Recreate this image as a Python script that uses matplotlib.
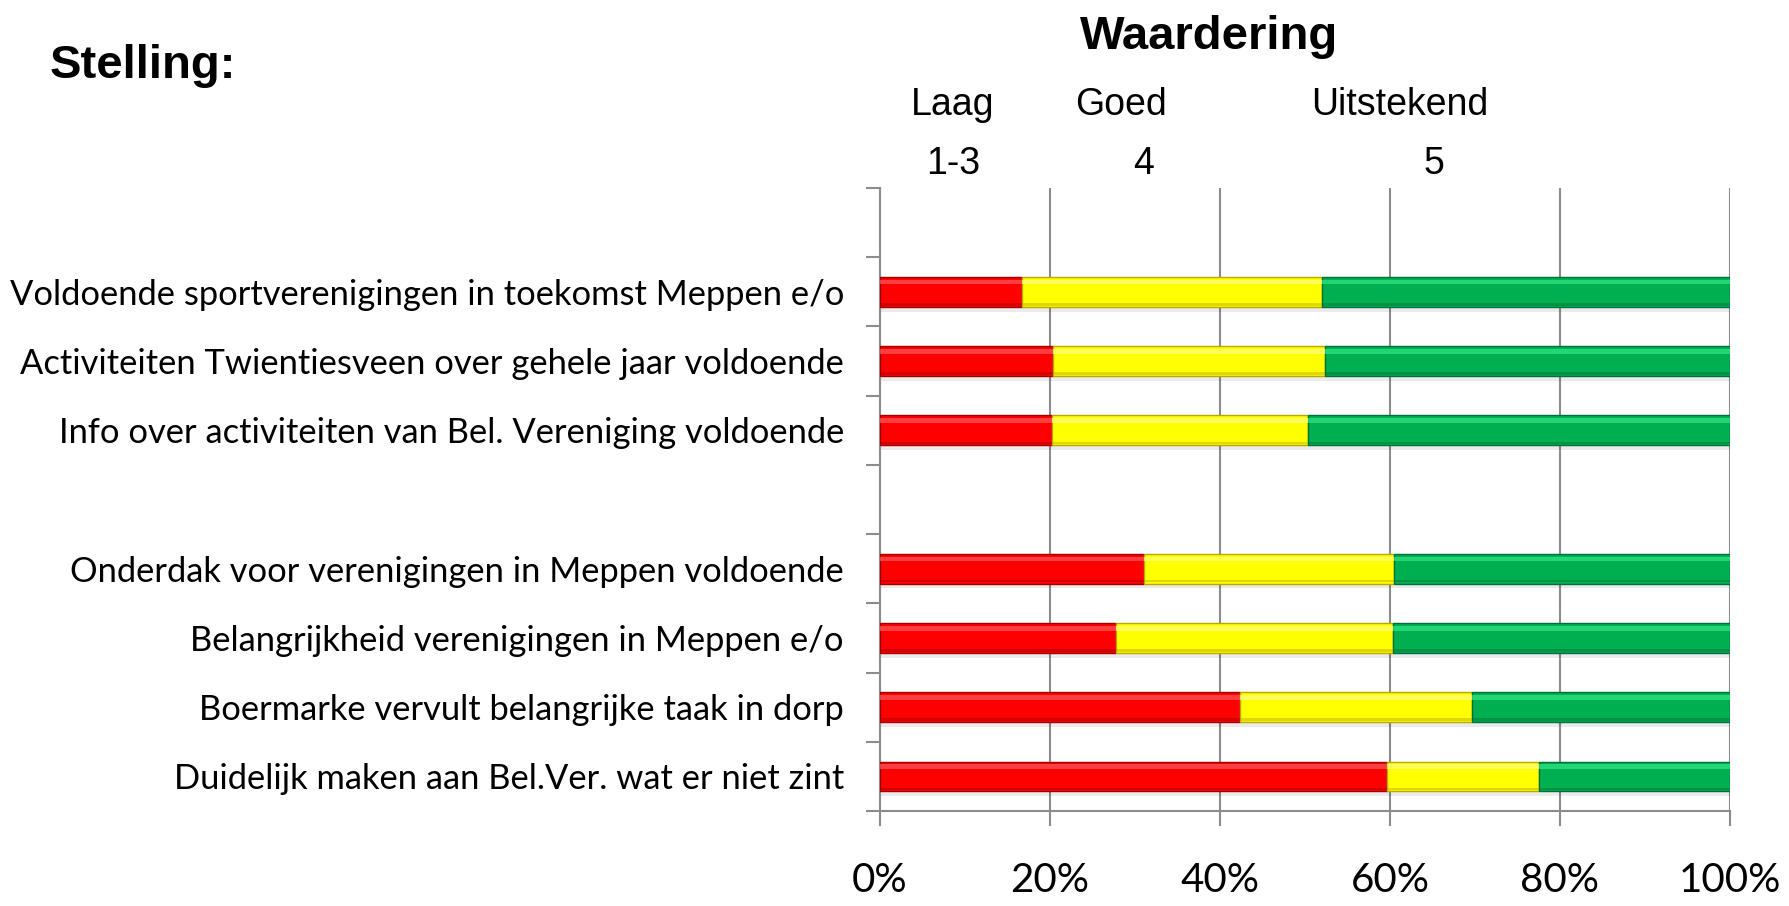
import numpy as np
import matplotlib
matplotlib.use("Agg")
import matplotlib.pyplot as plt
from matplotlib.ticker import FixedLocator, PercentFormatter

# statements, two groups (top and bottom block)
group_top = [
    "Voldoende sportverenigingen in toekomst Meppen e/o",
    "Activiteiten Twientiesveen over gehele jaar voldoende",
    "Info over activiteiten van Bel. Vereniging voldoende",
]
group_bottom = [
    "Onderdak voor verenigingen in Meppen voldoende",
    "Belangrijkheid verenigingen in Meppen e/o",
    "Boermarke vervult belangrijke taak in dorp",
    "Duidelijk maken aan Bel.Ver. wat er niet zint",
]

# shares in percent, same order as the statements above
laag = [16.7, 20.3, 20.2, 31.0, 27.8, 42.3, 59.6]      # 1-3
goed = [35.3, 32.1, 30.1, 29.5, 32.6, 27.4, 17.9]      # 4
uitstekend = [48.0, 47.6, 49.7, 39.5, 39.6, 30.3, 22.5]  # 5

rating_names = ["Laag", "Goed", "Uitstekend"]
rating_scores = ["1-3", "4", "5"]
x_ticks = [0, 20, 40, 60, 80, 100]

colors = ["#FF0000", "#FFFF00", "#00B050"]
edges = ["#A00000", "#B8A800", "#00703A"]
lights = ["#FF5A5A", "#FFFF80", "#30E884"]

labels = group_top + group_bottom
# slot layout: one empty slot above each group
ypos = np.array([1 + i for i in range(len(group_top))] +
                [len(group_top) + 2 + i for i in range(len(group_bottom))])
n_slots = len(group_top) + len(group_bottom) + 2

fig = plt.figure(figsize=(17.89, 9.06), dpi=100)
ax = fig.add_axes([880 / 1789, 95 / 906, 850 / 1789, 623 / 906])

bar_h = 0.43
left = np.zeros(len(labels))
for vals, c, ec, lc in zip([laag, goed, uitstekend], colors, edges, lights):
    vals = np.array(vals)
    # soft shadow under the bar
    ax.barh(ypos + 0.07, vals, left=left, height=bar_h, color="#000000",
            alpha=0.08, linewidth=0, zorder=2)
    ax.barh(ypos, vals, left=left, height=bar_h, color=c, edgecolor=ec,
            linewidth=1.0, zorder=3)
    # bevel: lighter band at the top, darker band at the bottom
    ax.barh(ypos - bar_h * 0.33, vals, left=left, height=bar_h * 0.16,
            color=lc, linewidth=0, alpha=0.7, zorder=4)
    ax.barh(ypos + bar_h * 0.42, vals, left=left, height=bar_h * 0.08,
            color=ec, linewidth=0, alpha=0.45, zorder=4)
    left += vals

ax.set_xlim(0, 100)
ax.set_ylim(n_slots - 0.5, -0.5)

grid_c = "#8C8C8C"
ax.xaxis.set_major_locator(FixedLocator(x_ticks))
ax.xaxis.set_major_formatter(PercentFormatter(decimals=0))
ax.grid(axis="x", color=grid_c, linewidth=1.5, zorder=0)
ax.set_axisbelow(True)

ax.set_yticks(ypos)
ax.set_yticklabels(labels)
ax.yaxis.set_minor_locator(FixedLocator(np.arange(n_slots + 1) - 0.5))
ax.tick_params(axis="y", which="major", length=0, pad=26,
               labelsize=24.8, labelcolor="black")
ax.tick_params(axis="y", which="minor", length=10, width=1.5, color=grid_c)
ax.tick_params(axis="x", which="major", length=11, width=1.5, color=grid_c,
               pad=26, labelsize=29)
for lab in ax.get_yticklabels() + ax.get_xticklabels():
    lab.set_fontfamily("Lato")

for side in ["top", "right"]:
    ax.spines[side].set_visible(False)
for side in ["left", "bottom"]:
    ax.spines[side].set_color(grid_c)
    ax.spines[side].set_linewidth(1.5)

fig.text(50 / 1789, 1 - 66 / 906, "Stelling:", fontsize=34, fontweight="bold",
         family="Liberation Sans", ha="left", va="center")
fig.text(1209 / 1789, 1 - 37 / 906, "Waardering", fontsize=34, fontweight="bold",
         family="Liberation Sans", ha="center", va="center")

name_x = [953, 1121, 1400]
score_x = [953, 1144, 1434]
for nm, sc, nx, sx in zip(rating_names, rating_scores, name_x, score_x):
    fig.text(nx / 1789, 1 - 105 / 906, nm, fontsize=27, family="Liberation Sans",
             ha="center", va="center")
    fig.text(sx / 1789, 1 - 164 / 906, sc, fontsize=27, family="Liberation Sans",
             ha="center", va="center")

fig.savefig("out.png", dpi=100)
